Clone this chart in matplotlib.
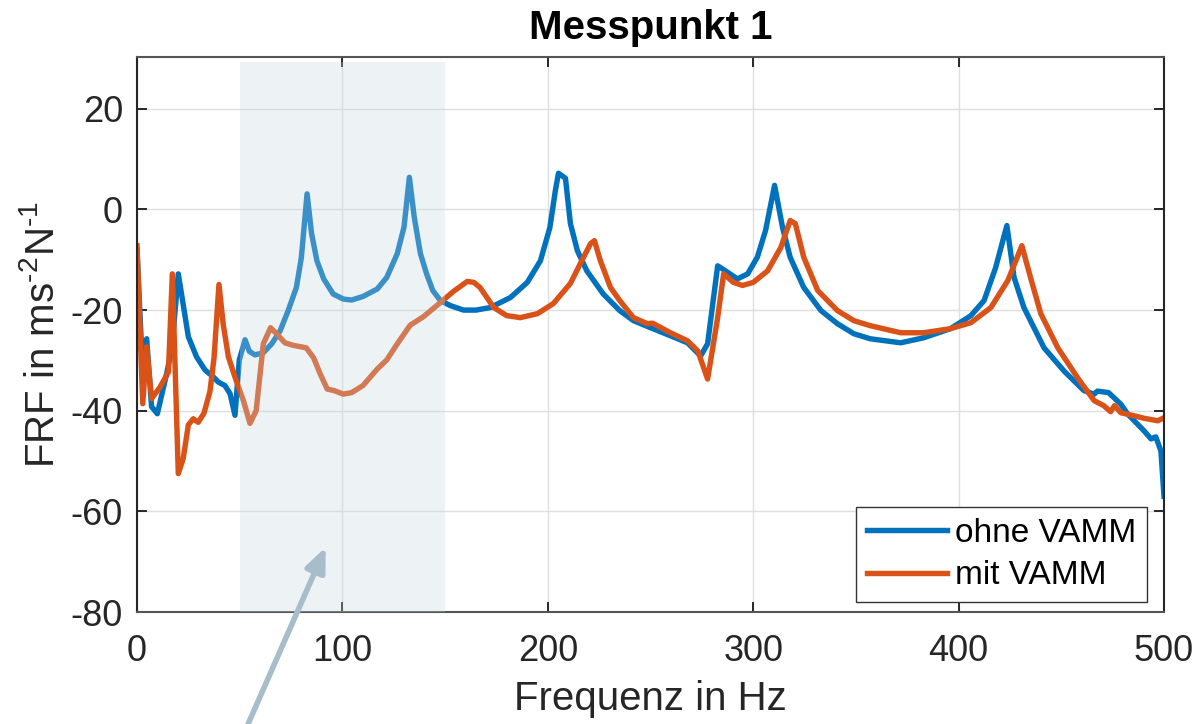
import matplotlib
matplotlib.use("Agg")
import matplotlib.pyplot as plt

plt.rcParams['font.family'] = ['Liberation Sans', 'DejaVu Sans']
plt.rcParams['mathtext.fontset'] = 'custom'
plt.rcParams['mathtext.rm'] = 'Liberation Sans'
plt.rcParams['mathtext.default'] = 'regular'
plt.rcParams['axes.unicode_minus'] = False

# ─── data ────────────────────────────────────────────────────────────────────
freq_ohne = [0, 2.5, 4.7, 7.1, 9.9, 14.4, 17, 20.1, 22.5, 25, 29, 33.1, 37.2, 39.6, 42.8,
             45.3, 47.7, 49.8, 52.6, 54.7, 57.4, 61.4, 65.6, 69.7, 73.6, 77.6, 80, 82.8,
             85, 87.6, 90.9, 95.5, 100.4, 104.5, 110, 117, 121.6, 126.7, 130, 132.6, 135,
             138, 141, 144, 147.7, 152.5, 159, 165, 172, 181.8, 190, 196.4, 201, 203.7,
             205.2, 208.6, 211, 214.4, 219, 227, 235, 241.7, 250, 259.7, 268, 274.4,
             277.8, 282.7, 286.5, 292.3, 297.3, 302, 306, 310.4, 314.3, 318, 324.6, 333,
             341, 349, 357, 371.8, 383, 396, 406, 412.4, 418, 423.5, 427, 431.8, 441.6,
             451.3, 461, 466, 467.6, 473, 479, 482.4, 490.3, 493.7, 496, 498.5, 500]
frf_ohne = [-8, -30, -25.7, -39.2, -40.6, -32.7, -27.5, -12.8, -18.9, -25.3, -29.3, -31.9,
            -33.3, -34.3, -35, -36.6, -40.9, -29.9, -25.9, -28.2, -28.9, -28.5, -26.7,
            -24.1, -20.1, -15.5, -9.6, 3.1, -4.8, -10.2, -13.8, -16.8, -17.8, -18, -17.3,
            -15.8, -13.5, -8.8, -3.5, 6.4, -1.6, -8.8, -12.8, -16.1, -18.1, -19.1, -20,
            -20, -19.5, -17.5, -14.5, -10.2, -3.6, 3.8, 7.2, 6.2, -2.8, -8.2, -12.2,
            -16.8, -20.1, -22.1, -23.5, -25.1, -26.5, -29.1, -26.7, -11.2, -12.2, -13.8,
            -12.8, -9.5, -4.2, 4.8, -3.6, -9.5, -15.5, -20.1, -22.7, -24.7, -25.7, -26.5,
            -25.5, -23.7, -21.1, -18.1, -11.6, -3.2, -13.5, -19.5, -27.5, -32.1, -36,
            -36.7, -36.1, -36.4, -38.7, -40.7, -44, -45.6, -45.2, -48, -57]

freq_mit = [0, 2.8, 4.7, 7.1, 11.2, 15.3, 17.2, 20.1, 22.5, 25, 27.4, 29.8, 32.6, 35.5,
            37.5, 39.9, 42, 44.5, 47.7, 51.8, 55, 58, 61.5, 65, 67.5, 72, 76, 82.4, 86,
            89, 92.6, 96, 100.4, 104.5, 110, 117, 121.6, 126.7, 133, 139.5, 147.7, 154,
            160.8, 164, 167, 173.7, 180, 186.6, 195, 202.7, 211, 217.4, 220.8, 222.7,
            225.6, 230.5, 235, 241.7, 248.5, 251, 259.7, 268, 273, 277.8, 282.7, 285.6,
            290.4, 294.8, 300, 307, 313.4, 318, 320.5, 324.6, 331.4, 341, 349, 357,
            371.8, 383, 396, 406, 415.7, 424, 430.8, 435, 440, 448.3, 458, 466, 470.7,
            474, 475.9, 479, 485.5, 490.3, 497, 500]
frf_mit = [-7.2, -38.6, -27.3, -37.6, -35.3, -32.3, -12.8, -52.5, -49.5, -42.8, -41.6,
           -42.3, -40.5, -36.2, -29.5, -14.9, -22.9, -29.3, -33.3, -38, -42.5, -40,
           -26.7, -23.5, -24.5, -26.5, -27, -27.5, -29.5, -32.5, -35.7, -36, -36.7,
           -36.4, -35, -31.7, -29.9, -26.7, -23, -21.3, -18.5, -16.3, -14.3, -14.5,
           -15.5, -19.5, -21.1, -21.5, -20.7, -18.7, -14.7, -9.5, -6.8, -6.2, -10.2,
           -15.5, -18.1, -21.5, -22.7, -22.6, -24.5, -26.1, -28.1, -33.7, -21.5, -12.8,
           -14.5, -15.1, -14.5, -12.2, -7.6, -2.2, -2.8, -9.5, -16.1, -20.1, -22.1,
           -23.1, -24.5, -24.5, -23.7, -22.5, -19.5, -14.1, -7.2, -13.5, -20.7, -27.5,
           -33.5, -38, -39, -40.2, -39, -40.4, -41, -41.5, -42, -41.4]

band = [50, 150]          # highlighted frequency range
band_top = 29.4
x_ticks = [0, 100, 200, 300, 400, 500]
y_ticks = [-80, -60, -40, -20, 0, 20]

# ─── figure ──────────────────────────────────────────────────────────────────
fig = plt.figure(figsize=(12, 7.24), dpi=100)
ax = fig.add_axes([137 / 1200, 112 / 724, 1027 / 1200, 555 / 724])

ax.plot(freq_ohne, frf_ohne, color='#0072BD', linewidth=3.9, label='ohne VAMM', zorder=2)
ax.plot(freq_mit, frf_mit, color='#D95319', linewidth=3.9, label='mit VAMM', zorder=2.1)

# semi-transparent band on top of the curves
ax.fill_between(band, -80, band_top, color='#c5d6e0', alpha=0.3, linewidth=0, zorder=3)

ax.annotate('', xy=(91.9, -67.1), xytext=(50.6, -105.5),
            arrowprops=dict(arrowstyle='-|>,head_length=0.4,head_width=0.17',
                            color='#a8bdca', lw=4, mutation_scale=36,
                            shrinkA=0, shrinkB=0),
            annotation_clip=False, zorder=5)

ax.set_xlim(0, 500)
ax.set_ylim(-80, 30.3)
ax.set_xticks(x_ticks)
ax.set_yticks(y_ticks)
ax.grid(True, color='#dfdfdf', linewidth=1.0)
ax.set_axisbelow(True)

ax.tick_params(direction='in', length=7, width=1.4, labelsize=26,
               top=True, right=True, colors='#262626')
ax.tick_params(axis='x', pad=16)
ax.tick_params(axis='y', pad=10)
for side in ['left', 'right']:
    ax.spines[side].set_color('#262626')
for side in ['top', 'bottom']:
    ax.spines[side].set_color('#555555')
for sp in ax.spines.values():
    sp.set_linewidth(1.5)

ax.set_title('Messpunkt 1', fontsize=29, fontweight='bold', pad=13)
ax.set_xlabel('Frequenz in Hz', fontsize=29, color='#262626', labelpad=8)
ax.set_ylabel(r'FRF in ms$^{\text{-2}}$N$^{\text{-1}}$', fontsize=29, color='#262626',
              labelpad=6)

leg = ax.legend(loc='lower right', bbox_to_anchor=(1010 / 1027, 10 / 555),
                borderaxespad=0, fontsize=24, frameon=True, fancybox=False,
                framealpha=1, edgecolor='#333333', handlelength=2.4,
                handletextpad=0.25, labelspacing=0.35, borderpad=0.32)
leg.get_frame().set_linewidth(1.0)

plt.savefig('out.png', dpi=100)
